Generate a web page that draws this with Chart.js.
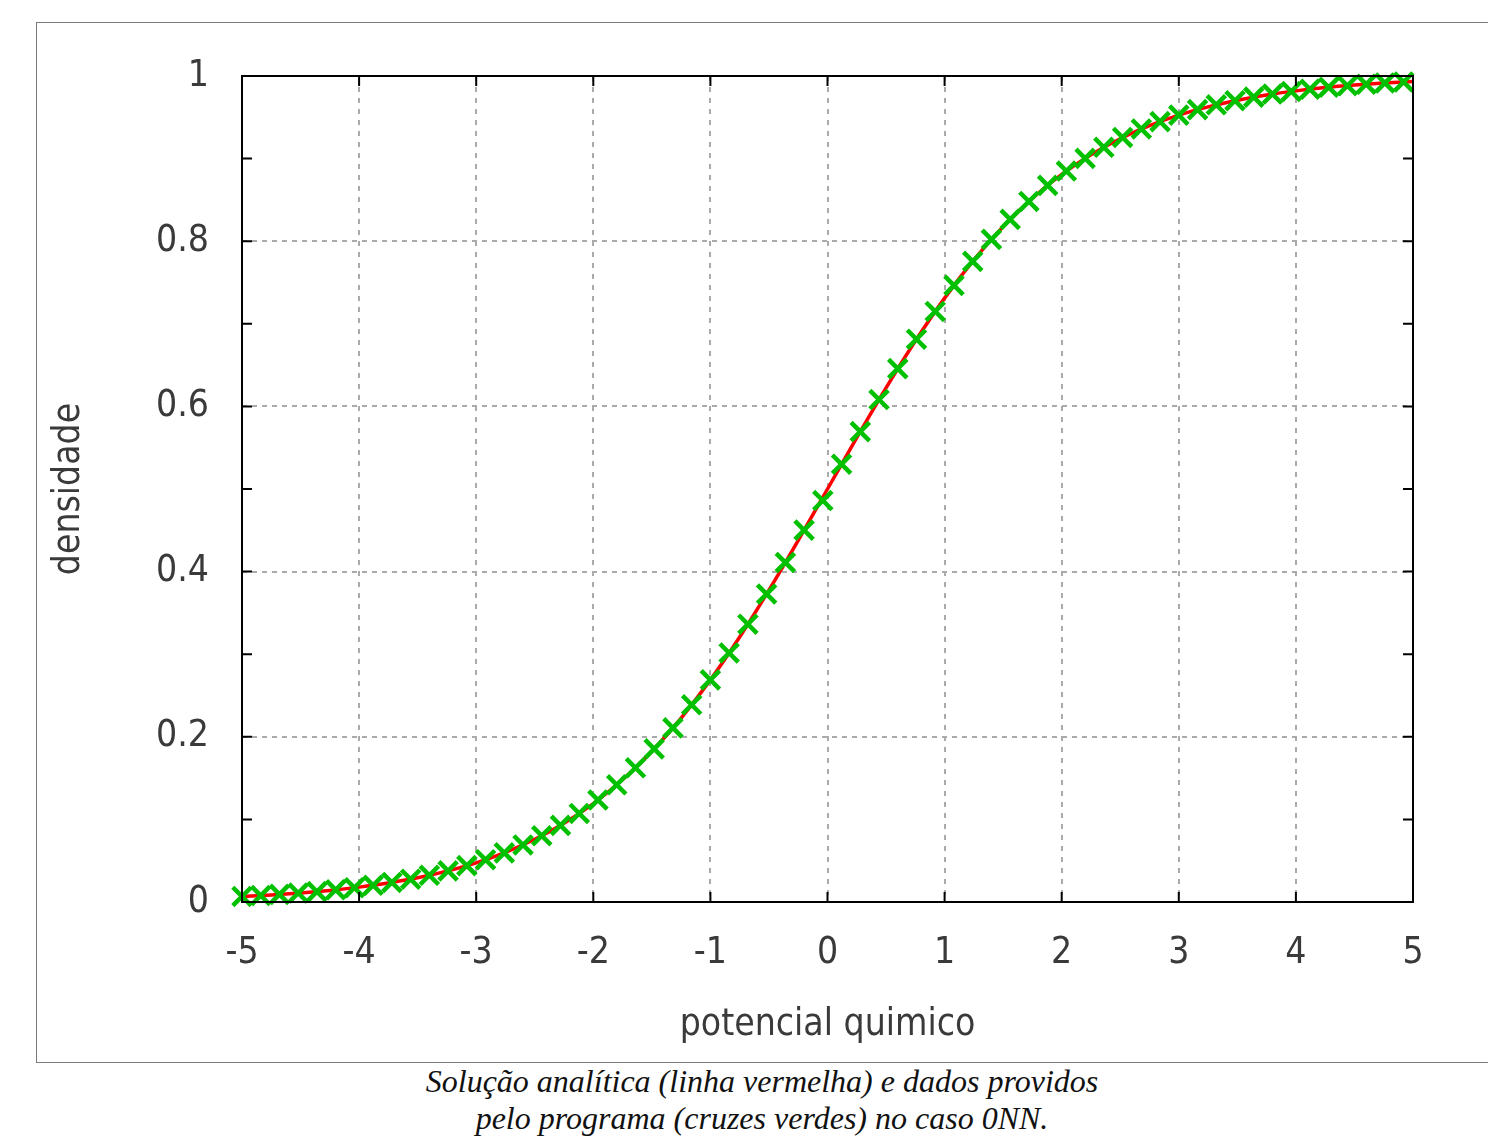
<!DOCTYPE html>
<html>
<head>
<meta charset="utf-8">
<script src="https://cdn.jsdelivr.net/npm/chart.js@4/dist/chart.umd.min.js"></script>
<style>
    body { margin: 0; background: #fff; width: 1488px; height: 1144px; position: relative; overflow: hidden; }
    #frame { position: absolute; left: 36px; top: 22px; width: 1460px; height: 1041px; border: 1px solid #7a7a7a; box-sizing: border-box; }
    #chart { position: absolute; left: 0; top: 0; }
    #caption {
        position: absolute; left: 0; width: 1524px; top: 1063px; text-align: center;
        font-family: "Liberation Serif", serif; font-style: italic; font-size: 32px; line-height: 37px; color: #111;
    }
</style>
</head>
<body>
<div id="frame"></div>
<canvas id="chart" width="1488" height="1062"></canvas>
<div id="caption">Solução analítica (linha vermelha) e dados providos<br>pelo programa (cruzes verdes) no caso 0NN.</div>
<script>
// analytic curve (red line)
const lineX = [-5, -4.75, -4.5, -4.25, -4, -3.75, -3.5, -3.25, -3, -2.75, -2.5, -2.25, -2, -1.75, -1.5, -1.25, -1, -0.75, -0.5, -0.25,
    0, 0.25, 0.5, 0.75, 1, 1.25, 1.5, 1.75, 2, 2.25, 2.5, 2.75, 3, 3.25, 3.5, 3.75, 4, 4.25, 4.5, 4.75, 5];
const lineY = [0.0067, 0.0086, 0.011, 0.014, 0.018, 0.023, 0.0293, 0.0374, 0.0474, 0.0601, 0.0759, 0.0953, 0.1192, 0.148, 0.1824, 0.2227, 0.2689, 0.3208, 0.3775, 0.4378,
    0.5, 0.5622, 0.6225, 0.6792, 0.7311, 0.7773, 0.8176, 0.852, 0.8808, 0.9047, 0.9241, 0.9399, 0.9526, 0.9626, 0.9707, 0.977, 0.982, 0.986, 0.989, 0.9914, 0.9933];

// program output (green crosses)
const crossX = [-5, -4.84, -4.68, -4.52, -4.36, -4.2, -4.04, -3.88, -3.72, -3.56, -3.4, -3.24, -3.08, -2.92, -2.76, -2.6, -2.44, -2.28, -2.12, -1.96,
    -1.8, -1.64, -1.48, -1.32, -1.16, -1, -0.84, -0.68, -0.52, -0.36, -0.2, -0.04, 0.12, 0.28, 0.44, 0.6, 0.76, 0.92, 1.08, 1.24,
    1.4, 1.56, 1.72, 1.88, 2.04, 2.2, 2.36, 2.52, 2.68, 2.84, 3, 3.16, 3.32, 3.48, 3.64, 3.8, 3.96, 4.12, 4.28, 4.44, 4.6, 4.76, 4.92];
const crossY = [0.0067, 0.0078, 0.0092, 0.0108, 0.0126, 0.0148, 0.0173, 0.0202, 0.0237, 0.0276, 0.0323, 0.0377, 0.044, 0.0512, 0.0595, 0.0691, 0.0802, 0.0928, 0.1072, 0.1235,
    0.1419, 0.1625, 0.1854, 0.2108, 0.2387, 0.2689, 0.3015, 0.3363, 0.3729, 0.411, 0.4502, 0.486, 0.53, 0.5695, 0.6083, 0.6457, 0.6814, 0.715, 0.7465, 0.7756,
    0.8022, 0.8264, 0.8481, 0.8676, 0.8849, 0.9003, 0.9137, 0.9256, 0.9359, 0.9448, 0.9526, 0.9593, 0.9651, 0.9701, 0.9744, 0.9781, 0.9813, 0.984, 0.9864, 0.9883, 0.99, 0.9915, 0.9928];

const xTicks = [-5, -4, -3, -2, -1, 0, 1, 2, 3, 4, 5];
const xTickLabels = ["-5", "-4", "-3", "-2", "-1", "0", "1", "2", "3", "4", "5"];
const yTicks = [0, 0.2, 0.4, 0.6, 0.8, 1];
const yTickLabels = ["0", "0.2", "0.4", "0.6", "0.8", "1"];
const yMinorTicks = [0.1, 0.3, 0.5, 0.7, 0.9];

const FONT = "'DejaVu Sans Condensed', 'DejaVu Sans', sans-serif";
const TEXT = "#3a3a3a";

// frame + inward tick marks like gnuplot
const frameTicks = {
    id: "frameTicks",
    afterDraw(chart) {
        const ctx = chart.ctx;
        const a = chart.chartArea;
        const xs = chart.scales.x, ys = chart.scales.y;
        const len = 10;
        ctx.save();
        ctx.strokeStyle = "#000";
        ctx.lineWidth = 2;
        ctx.beginPath();
        xTicks.forEach((v) => {
            const px = xs.getPixelForValue(v);
            ctx.moveTo(px, a.bottom); ctx.lineTo(px, a.bottom - len);
            ctx.moveTo(px, a.top); ctx.lineTo(px, a.top + len);
        });
        yTicks.concat(yMinorTicks).forEach((v) => {
            const py = ys.getPixelForValue(v);
            ctx.moveTo(a.left, py); ctx.lineTo(a.left + len, py);
            ctx.moveTo(a.right, py); ctx.lineTo(a.right - len, py);
        });
        ctx.stroke();
        ctx.strokeRect(a.left, a.top, a.right - a.left, a.bottom - a.top);
        ctx.restore();
    }
};

new Chart("chart", {
    type: "scatter",
    data: {
        datasets: [
            {
                label: "programa",
                data: crossX.map((x, i) => ({ x: x, y: crossY[i] })),
                showLine: false,
                pointStyle: "crossRot",
                pointRadius: 13,
                pointBorderWidth: 4.5,
                borderColor: "#00c000",
                backgroundColor: "#00c000",
                clip: false,
            },
            {
                label: "analitica",
                data: lineX.map((x, i) => ({ x: x, y: lineY[i] })),
                showLine: true,
                pointRadius: 0,
                borderColor: "#ff0000",
                borderWidth: 3.5,
                cubicInterpolationMode: "monotone",
            },
        ],
    },
    plugins: [frameTicks],
    options: {
        responsive: false,
        animation: false,
        devicePixelRatio: 1,
        layout: { padding: { top: 76, right: 75, left: 0, bottom: 0 } },
        plugins: { legend: { display: false }, tooltip: { enabled: false } },
        scales: {
            x: {
                type: "linear",
                min: -5,
                max: 5,
                afterFit(scale) { scale.height = 160; },
                afterBuildTicks(scale) { scale.ticks = xTicks.map((v) => ({ value: v })); },
                ticks: {
                    callback: (v) => xTickLabels[xTicks.indexOf(v)],
                    font: { family: FONT, size: 37 },
                    color: TEXT,
                    padding: 29,
                    maxRotation: 0,
                },
                grid: { color: "#aaaaaa", lineWidth: 2, drawTicks: false },
                border: { display: false, dash: [5, 6] },
                title: {
                    display: true,
                    text: "potencial quimico",
                    font: { family: FONT, size: 37, lineHeight: 1.2 },
                    color: TEXT,
                    padding: { top: 0, bottom: 14 },
                },
            },
            y: {
                type: "linear",
                min: 0,
                max: 1,
                afterFit(scale) { scale.width = 242; },
                afterBuildTicks(scale) { scale.ticks = yTicks.map((v) => ({ value: v })); },
                ticks: {
                    callback: (v) => yTickLabels[yTicks.indexOf(v)],
                    font: { family: FONT, size: 37 },
                    color: TEXT,
                    padding: 33,
                },
                grid: { color: "#aaaaaa", lineWidth: 2, drawTicks: false },
                border: { display: false, dash: [5, 5] },
                title: {
                    display: true,
                    text: "densidade",
                    font: { family: FONT, size: 37, lineHeight: 1.2 },
                    color: TEXT,
                    padding: { top: 47, bottom: 0 },
                },
            },
        },
    },
});
</script>
</body>
</html>
